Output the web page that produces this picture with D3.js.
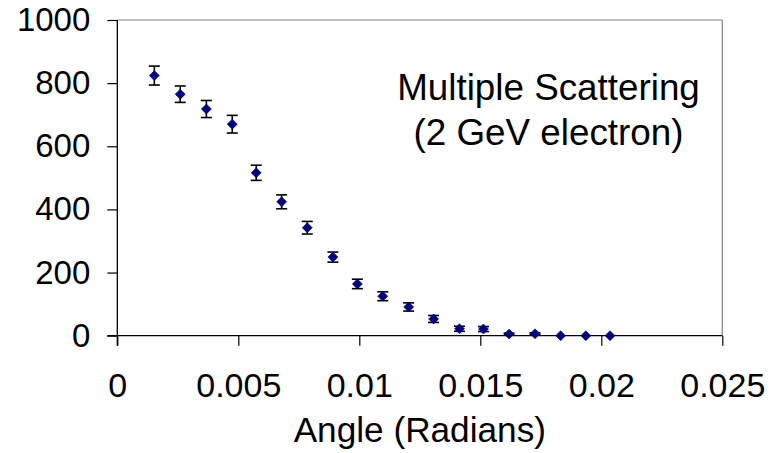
<!DOCTYPE html>
<html>
<head>
<meta charset="utf-8">
<script src="https://cdn.jsdelivr.net/npm/d3@7"></script>
<style>
html,body{margin:0;padding:0;background:#fff;}
svg{display:block;}
text{font-family:"Liberation Sans",Arial,sans-serif;fill:#000;}
</style>
</head>
<body>
<svg id="chart" width="777" height="453"></svg>
<script>
// Data
const angles = [0.00153,0.00260,0.00368,0.00475,0.00574,0.00679,0.00785,0.00891,0.00992,0.01097,0.01204,0.01307,0.01414,0.01513,0.01619,0.01726,0.01832,0.01936,0.02036];
const counts = [824,765,718,670,516,424,342,249,164,125,91,53,22,21,5,6,0,0,0];
const errors = [30,26,27,28,24,22,20,16,15,14,13,11,8,8,3,3,0,0,0];
const xTicks = [0,0.005,0.01,0.015,0.02,0.025];
const xTickLabels = ["0","0.005","0.01","0.015","0.02","0.025"];
const yTicks = [0,200,400,600,800,1000];
const yTickLabels = ["0","200","400","600","800","1000"];
const annotation = ["Multiple Scattering","(2 GeV electron)"];
const xTitle = "Angle (Radians)";

const svg = d3.select("#chart");
const L = 117.3, R = 722.3, T = 20, B = 335.7;
const x = d3.scaleLinear().domain([0,0.025]).range([L,R]);
const y = d3.scaleLinear().domain([0,1000]).range([B,T]);

// plot frame (top/right gray)
svg.append("line").attr("x1",L).attr("x2",R).attr("y1",T).attr("y2",T).attr("stroke","#808080").attr("stroke-width",1.2);
svg.append("line").attr("x1",R).attr("x2",R).attr("y1",T).attr("y2",B).attr("stroke","#808080").attr("stroke-width",1.2);

// y axis
const yAxis = d3.axisLeft(y).tickValues(yTicks).tickFormat((d,i)=>yTickLabels[i]).tickSize(10).tickPadding(17);
const gy = svg.append("g").attr("transform",`translate(${L},0)`).call(yAxis);
gy.select(".domain").attr("stroke","#000").attr("stroke-width",1.3).attr("d",`M0,${T}V${B+10}`);
gy.selectAll(".tick line").attr("stroke","#000").attr("stroke-width",1.2);
gy.selectAll(".tick text").attr("font-size",33).attr("font-family","Liberation Sans, Arial, sans-serif").attr("fill","#000");

// x axis
const xAxis = d3.axisBottom(x).tickValues(xTicks).tickFormat((d,i)=>xTickLabels[i]).tickSize(10).tickPadding(0);
const gx = svg.append("g").attr("transform",`translate(0,${B})`).call(xAxis);
gx.select(".domain").attr("stroke","#000").attr("stroke-width",1.3).attr("d",`M${L-10},0H${R}`);
gx.selectAll(".tick line").attr("stroke","#000").attr("stroke-width",1.2);
gx.selectAll(".tick text").attr("font-size",34).attr("font-family","Liberation Sans, Arial, sans-serif").attr("fill","#000")
  .attr("dy",null).attr("y",61);

// axis title
svg.append("text").attr("x",(L+R)/2).attr("y",441.5).attr("text-anchor","middle").attr("font-size",35.2).text(xTitle);

// annotation
svg.selectAll("text.ann").data(annotation).enter().append("text").attr("class","ann")
  .attr("x",548.5).attr("y",(d,i)=>100+i*45).attr("text-anchor","middle").attr("font-size",36.8).text(d=>d);

// error bars
const pts = angles.map((a,i)=>({a, c:counts[i], e:errors[i]}));
const eb = svg.append("g").attr("stroke","#000").attr("stroke-width",1.6);
pts.filter(d=>d.e>0).forEach(d=>{
  const cx = x(d.a);
  eb.append("line").attr("x1",cx).attr("x2",cx).attr("y1",y(d.c+d.e)).attr("y2",y(d.c-d.e));
  eb.append("line").attr("x1",cx-5.5).attr("x2",cx+5.5).attr("y1",y(d.c+d.e)).attr("y2",y(d.c+d.e));
  eb.append("line").attr("x1",cx-5.5).attr("x2",cx+5.5).attr("y1",y(d.c-d.e)).attr("y2",y(d.c-d.e));
});

// diamond markers
svg.append("g").selectAll("path").data(pts).enter().append("path")
  .attr("d","M0,-5L5,0L0,5L-5,0Z")
  .attr("transform",d=>`translate(${x(d.a)},${y(d.c)})`)
  .attr("fill","#000080").attr("stroke","#000080").attr("stroke-width",0.6);
</script>
</body>
</html>
